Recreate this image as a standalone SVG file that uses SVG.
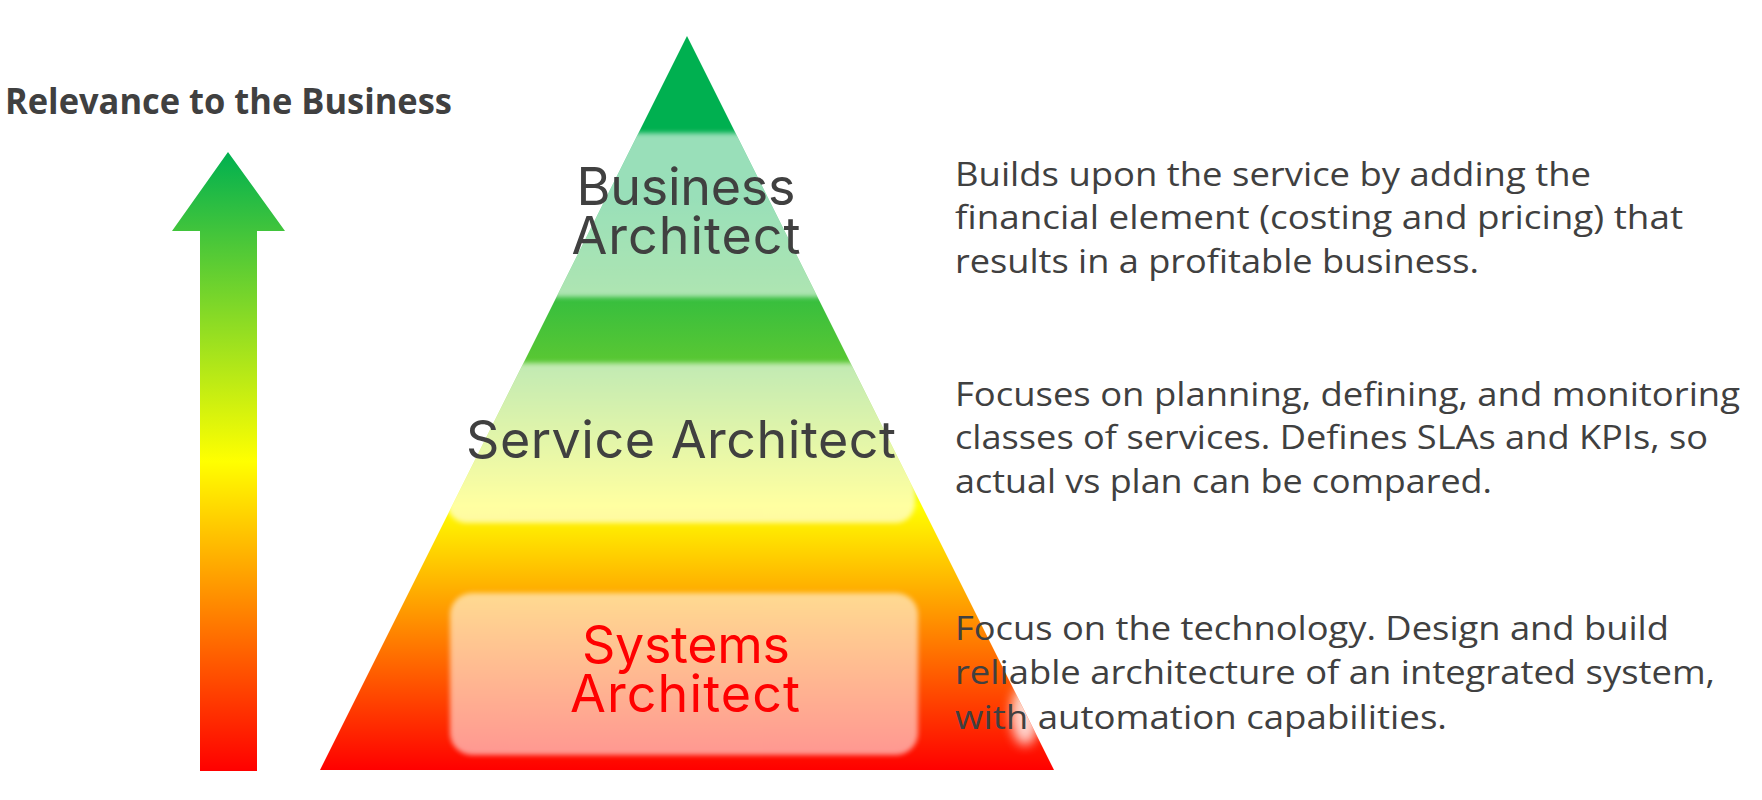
<svg xmlns="http://www.w3.org/2000/svg" width="1762" height="800" viewBox="0 0 1762 800">
  <defs>
    <linearGradient id="gArrow" gradientUnits="userSpaceOnUse" x1="0" y1="152" x2="0" y2="771">
      <stop offset="0" stop-color="#00B050"/>
      <stop offset="0.5" stop-color="#FFFF00"/>
      <stop offset="1" stop-color="#FF0000"/>
    </linearGradient>
    <linearGradient id="gTri" gradientUnits="userSpaceOnUse" x1="0" y1="36" x2="0" y2="770">
      <stop offset="0" stop-color="#00B050"/>
      <stop offset="0.22" stop-color="#00B050"/>
      <stop offset="0.45" stop-color="#5CC832"/>
      <stop offset="0.64" stop-color="#FFFF00"/>
      <stop offset="1" stop-color="#FF0000"/>
    </linearGradient>
    <clipPath id="cTri">
      <polygon points="687,36 1054,770 320,770"/>
    </clipPath>
    <filter id="soft" x="-10%" y="-20%" width="120%" height="140%">
      <feGaussianBlur stdDeviation="2.5"/>
    </filter>
    <filter id="glow" x="-50%" y="-50%" width="200%" height="200%">
      <feGaussianBlur stdDeviation="6"/>
    </filter>
    <style>
      .title { font-family: "Open Sans", "Noto Sans", sans-serif; font-weight: 700; font-size: 36px; fill: #404040; }
      .lvl { font-family: Inter, "Noto Sans", sans-serif; font-weight: 400; font-size: 52px; text-anchor: middle; }
      .dark { fill: #404040; }
      .red { fill: #FF0000; }
      .desc { font-family: "Open Sans", "Noto Sans", sans-serif; font-size: 32.5px; fill: #404040; }
      .band { fill: #FFFFFF; filter: url(#soft); }
    </style>
  </defs>

  <rect x="0" y="0" width="1762" height="800" fill="#FFFFFF"/>

  <g id="title">
    <text class="title" x="5" y="114" textLength="447" lengthAdjust="spacingAndGlyphs">Relevance to the Business</text>
  </g>

  <g id="relevance-arrow">
    <polygon points="228,152 285,231 257,231 257,771 200,771 200,231 172,231" fill="url(#gArrow)"/>
  </g>

  <g id="pyramid">
    <polygon points="687,36 1054,770 320,770" fill="url(#gTri)"/>
    <g clip-path="url(#cTri)">
      <rect class="band" x="300" y="133" width="770" height="164" opacity="0.6"/>
      <rect class="band" x="447" y="363" width="468" height="160" rx="20" opacity="0.63"/>
      <rect class="band" x="450" y="593" width="468" height="162" rx="22" opacity="0.57"/>
      <ellipse cx="1025" cy="715" rx="14" ry="30" fill="#FFFFFF" opacity="0.8" filter="url(#glow)"/>
    </g>
  </g>

  <g id="business-architect">
    <text class="lvl dark" x="686" y="205" textLength="219" lengthAdjust="spacing">Business</text>
    <text class="lvl dark" x="686" y="254" textLength="229" lengthAdjust="spacing">Architect</text>
  </g>

  <g id="service-architect">
    <text class="lvl dark" x="681" y="458" textLength="430" lengthAdjust="spacing">Service Architect</text>
  </g>

  <g id="systems-architect">
    <text class="lvl red" x="686" y="663" textLength="208" lengthAdjust="spacing">Systems</text>
    <text class="lvl red" x="685" y="712" textLength="230" lengthAdjust="spacing">Architect</text>
  </g>

  <g id="business-desc">
    <text class="desc" x="955" y="186" textLength="636" lengthAdjust="spacingAndGlyphs">Builds upon the service by adding the</text>
    <text class="desc" x="955" y="229" textLength="728" lengthAdjust="spacingAndGlyphs">financial element (costing and pricing) that</text>
    <text class="desc" x="955" y="273" textLength="524" lengthAdjust="spacingAndGlyphs">results in a profitable business.</text>
  </g>

  <g id="service-desc">
    <text class="desc" x="955" y="406" textLength="785" lengthAdjust="spacingAndGlyphs">Focuses on planning, defining, and monitoring</text>
    <text class="desc" x="955" y="449" textLength="753" lengthAdjust="spacingAndGlyphs">classes of services. Defines SLAs and KPIs, so</text>
    <text class="desc" x="955" y="493" textLength="537" lengthAdjust="spacingAndGlyphs">actual vs plan can be compared.</text>
  </g>

  <g id="systems-desc">
    <text class="desc" x="955" y="640" textLength="714" lengthAdjust="spacingAndGlyphs">Focus on the technology. Design and build</text>
    <text class="desc" x="955" y="684" textLength="760" lengthAdjust="spacingAndGlyphs">reliable architecture of an integrated system,</text>
    <text class="desc" x="955" y="729" textLength="492" lengthAdjust="spacingAndGlyphs">with automation capabilities.</text>
  </g>
</svg>
